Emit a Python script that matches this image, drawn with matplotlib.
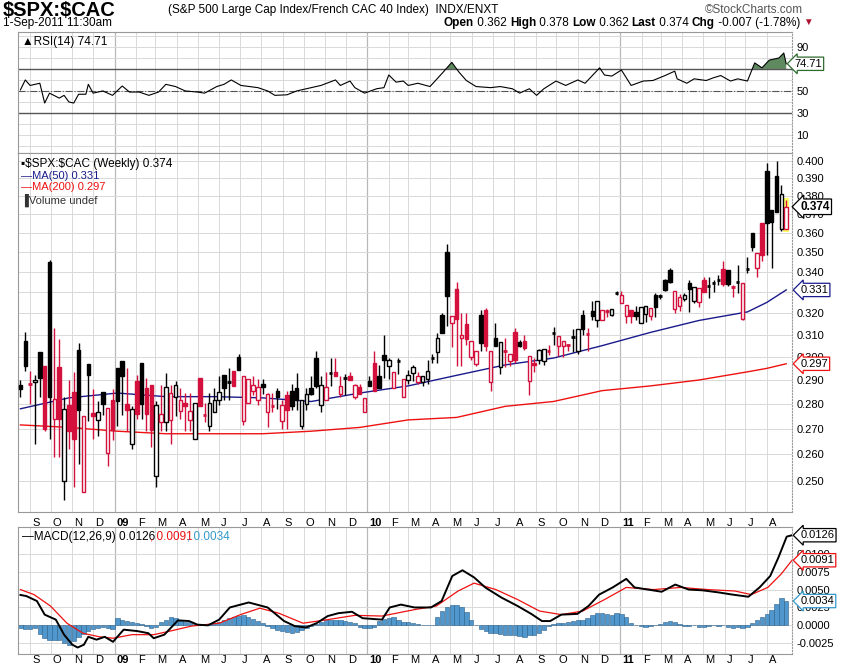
import matplotlib
matplotlib.use("Agg")
import matplotlib.pyplot as plt
from matplotlib.patches import Rectangle
from matplotlib.ticker import FixedLocator, NullLocator
import numpy as np
import pandas as pd

plt.rcParams['font.family'] = ['Liberation Sans Narrow', 'Liberation Sans', 'DejaVu Sans']

# weekly OHLC of $SPX:$CAC
opens = [0.288,0.307,0.2885,0.289,0.302,0.296,0.345,0.274,0.2955,0.250,0.2795,0.285,0.303,0.246,0.297,0.2762,0.2735,0.285,0.2605,0.2815,
 0.295,0.298,0.280,0.264,0.2895,0.2975,0.2865,0.288,0.252,0.2725,0.2725,0.2735,0.283,0.277,0.2805,0.2735,0.266,0.291,0.2758,0.271,
 0.2765,0.2815,0.292,0.2895,0.294,0.300,0.273,0.2805,0.2855,0.2815,0.2885,0.2765,0.2795,0.2855,0.273,0.2835,0.2855,0.2865,0.271,0.280,
 0.2865,0.2995,0.2795,0.2815,0.2932,0.2935,0.284,0.2908,0.2915,0.283,0.287,0.2765,0.2895,0.2975,0.2915,0.301,0.296,0.2865,0.2982,0.283,
 0.290,0.293,0.289,0.289,0.2905,0.2998,0.302,0.319,0.350,0.3155,0.3315,0.3085,0.315,0.300,0.297,0.319,0.3215,0.289,0.3085,0.2955,
 0.3025,0.298,0.311,0.3065,0.307,0.2895,0.2975,0.2985,0.298,0.3025,0.3105,0.305,0.305,0.305,0.309,0.3025,0.319,0.3105,0.321,0.3165,
 0.3165,0.3212,0.319,0.3292,0.3245,0.3185,0.3215,0.3205,0.3155,0.3195,0.3185,0.3285,0.3282,0.336,0.341,0.322,0.3235,0.3265,0.3345,0.3255,
 0.325,0.336,0.3332,0.3342,0.3362,0.3415,0.341,0.3328,0.3352,0.317,0.341,0.360,0.342,0.365,0.394,0.372,0.391,0.362,0.362]
highs = [0.290,0.311,0.294,0.292,0.302,0.296,0.346,0.313,0.308,0.283,0.290,0.2935,0.306,0.275,0.297,0.286,0.281,0.285,0.2785,0.286,
 0.295,0.298,0.295,0.279,0.292,0.2975,0.291,0.288,0.281,0.288,0.293,0.288,0.2895,0.2865,0.2845,0.2845,0.2805,0.291,0.2805,0.2845,
 0.2865,0.2915,0.292,0.295,0.294,0.3015,0.2915,0.2905,0.2915,0.2905,0.2905,0.2845,0.2845,0.2865,0.2815,0.2855,0.2885,0.293,0.2815,0.2865,
 0.2915,0.3025,0.2915,0.2935,0.2995,0.2995,0.2915,0.2925,0.2935,0.2885,0.2885,0.2825,0.2915,0.3025,0.2965,0.310,0.2995,0.2935,0.2995,0.2905,
 0.2945,0.2965,0.2935,0.2915,0.2985,0.3015,0.3105,0.320,0.354,0.3185,0.335,0.320,0.320,0.307,0.3025,0.3215,0.3225,0.3025,0.3155,0.3065,
 0.3085,0.3015,0.313,0.3075,0.310,0.3005,0.2995,0.3035,0.3035,0.3055,0.3135,0.3095,0.307,0.3055,0.3125,0.3125,0.3215,0.313,0.3255,0.3255,
 0.3215,0.322,0.3215,0.3305,0.3305,0.324,0.3215,0.3235,0.323,0.3235,0.3225,0.3295,0.329,0.3365,0.342,0.3305,0.329,0.3295,0.336,0.3325,
 0.332,0.3375,0.3375,0.336,0.3385,0.3455,0.341,0.3335,0.3435,0.3345,0.3475,0.360,0.3495,0.365,0.399,0.372,0.400,0.386,0.378]
lows = [0.283,0.294,0.280,0.264,0.283,0.269,0.266,0.259,0.259,0.243,0.262,0.248,0.2565,0.246,0.273,0.266,0.267,0.2755,0.2555,0.2655,
 0.271,0.2755,0.269,0.262,0.274,0.274,0.269,0.263,0.248,0.269,0.269,0.264,0.275,0.274,0.269,0.269,0.266,0.279,0.2725,0.269,
 0.2765,0.2795,0.2815,0.2815,0.2875,0.2945,0.2715,0.2805,0.2835,0.2795,0.284,0.2705,0.2765,0.278,0.270,0.270,0.2775,0.2775,0.270,0.2775,
 0.2835,0.2865,0.2765,0.2815,0.2875,0.2915,0.283,0.2835,0.2905,0.282,0.284,0.2765,0.2875,0.2855,0.2865,0.291,0.2905,0.2865,0.2925,0.283,
 0.2885,0.2895,0.2885,0.2875,0.2885,0.2975,0.2975,0.3105,0.314,0.3045,0.296,0.296,0.3055,0.2985,0.296,0.3025,0.3025,0.2855,0.3055,0.2925,
 0.2955,0.296,0.2975,0.3045,0.303,0.2835,0.2935,0.297,0.2965,0.301,0.3055,0.3005,0.300,0.3025,0.302,0.3015,0.310,0.3025,0.3165,0.3135,
 0.3165,0.318,0.3185,0.3285,0.3245,0.3155,0.3155,0.3165,0.3155,0.316,0.3165,0.318,0.3265,0.3305,0.3345,0.320,0.321,0.3255,0.3205,0.3245,
 0.323,0.330,0.327,0.330,0.3335,0.333,0.333,0.3275,0.3295,0.3165,0.3395,0.3505,0.3375,0.3455,0.3485,0.342,0.371,0.361,0.362]
closes = [0.286,0.296,0.288,0.290,0.291,0.270,0.283,0.282,0.274,0.278,0.269,0.266,0.2775,0.275,0.292,0.275,0.2765,0.280,0.2785,0.2695,
 0.281,0.2915,0.2775,0.278,0.276,0.280,0.276,0.2695,0.2795,0.276,0.287,0.2845,0.288,0.2815,0.2792,0.277,0.2805,0.279,0.2752,0.2805,
 0.2815,0.285,0.2865,0.289,0.2875,0.2945,0.2915,0.2905,0.288,0.287,0.2872,0.284,0.279,0.283,0.2795,0.2775,0.279,0.2815,0.2815,0.284,
 0.284,0.2875,0.288,0.287,0.2928,0.2915,0.2875,0.2905,0.290,0.288,0.284,0.2825,0.2875,0.2855,0.2865,0.2985,0.2985,0.2935,0.2978,0.2905,
 0.292,0.2955,0.2915,0.2915,0.294,0.2995,0.3085,0.3105,0.328,0.3185,0.317,0.310,0.308,0.307,0.3025,0.306,0.305,0.3025,0.305,0.3065,
 0.3025,0.3015,0.2985,0.305,0.304,0.3005,0.2965,0.303,0.3035,0.3025,0.3105,0.3095,0.307,0.3055,0.3092,0.3125,0.3125,0.3102,0.3185,0.3255,
 0.3215,0.3208,0.322,0.3295,0.3285,0.324,0.3185,0.3185,0.323,0.3235,0.3225,0.323,0.328,0.331,0.335,0.3305,0.3275,0.3285,0.3315,0.3325,
 0.332,0.330,0.333,0.3345,0.336,0.334,0.334,0.3325,0.335,0.3345,0.3415,0.3525,0.3495,0.3485,0.365,0.3655,0.371,0.381,0.374]

ma_idx = [0, 10, 20, 30, 40, 50, 60, 70, 80, 90, 100, 110, 120, 130, 140, 150, 154, 158]
ma50 = [0.278, 0.2825, 0.2845, 0.283, 0.283, 0.2825, 0.281, 0.2845, 0.2875, 0.292, 0.2965, 0.2995,
        0.305, 0.311, 0.3165, 0.3205, 0.325, 0.331]
ma200 = [0.2715, 0.2705, 0.269, 0.268, 0.268, 0.268, 0.269, 0.2705, 0.2735, 0.2745, 0.279, 0.281,
         0.2855, 0.2875, 0.290, 0.2935, 0.295, 0.297]

rsi_idx = [0,1,2,4,5,6,8,9,10,11,12,13.5,14,15,17,19,21,22.5,24.5,26.5,28.5,30,32,34,36.5,38,40.5,42,43.5,45.5,49,51,52.5,55,57,60,
           62,65,66,68,69,71,73.5,75,76,77.5,79,80,82,84.5,87,89,90.5,92,94,97,99,101.5,103,105,106.5,108,110.5,112.5,115,116.5,
           119.5,120.5,122,124,126,128.5,130.5,133,135,135.5,137.5,139,141.5,143,144.5,146.5,148,150,151.5,153,154.5,156.5,157.5,158]
rsi = [51,60,55,57,39,48,43.5,46,40,39,47,47,56,48,50,46,54.5,49,49,46,49,56,54,50,49,48,54,56,60,55,53,50,46,46.5,50,53,
       55,60,55,59,53,48,52,53,64.5,58,59,55,57,54,66,76,67,59.5,54,53,54,52,48,52,46,52,59,55,60,57,
       71,64.5,63.5,69,55,59,59.5,64,68,61,57,61,59.5,62,64,59,61,59,75.5,71,78,80,84.5,74.71]

macd_idx = [0,1.2,3.4,5,7.3,9,10.7,11.8,13.1,14,15.7,17.4,19.1,21.3,24.1,26.4,27.5,29.7,32.5,34.8,36.5,38.7,41,43.2,47.1,51,54.4,
            56.6,58.9,61.1,63.4,65.6,68.4,70.6,74.6,76.2,78.5,81.3,84.7,86.9,89.1,91.2,93.6,95.9,99.2,102.6,105.4,107.6,109.3,111.6,
            114.9,117.2,119.4,122.2,125,126.7,129.5,132.3,135.1,137.9,140.7,144.1,146.9,150.2,152.5,154.7,156.4,158.1,159.2]
macd = [0.00425,0.0041,0.0034,0.0015,0.0008,-0.0013,-0.0027,-0.0031,-0.0027,-0.0016,-0.0020,-0.0016,-0.0023,-0.0006,-0.0008,-0.0011,
        -0.0018,-0.0013,0.0007,0.0006,0.0001,0.0,0.0008,0.0025,0.0032,0.0025,0.0006,-0.0001,-0.0003,0.0003,0.0013,0.0017,0.0019,
        0.0010,0.0008,0.0025,0.0029,0.0025,0.0025,0.0034,0.0069,0.0077,0.0067,0.0053,0.0039,0.0027,0.0016,0.0006,0.0006,0.0015,
        0.0016,0.0027,0.0043,0.0053,0.0065,0.0053,0.0050,0.0047,0.0057,0.0050,0.0049,0.0046,0.0043,0.0040,0.0053,0.0069,0.0095,
        0.0124,0.0126]
sig_idx = [0,2.8,6.2,9.6,12.9,16.3,19.1,23,27.5,30.9,35.3,41,45.4,49.4,53.3,58.3,63.4,69,74.6,81.3,85.8,90.3,93.6,98.1,102.6,
           107.1,111.6,116,120.5,125,130.6,136.2,141.8,147.4,150.8,154.2,157,159.2]
signal = [0.0050,0.0043,0.0027,0.0003,-0.0011,-0.0016,-0.0018,-0.0013,-0.0013,-0.0008,-0.0001,0.0003,0.0015,0.0024,0.0017,0.0003,
          0.0008,0.0014,0.0013,0.0022,0.0027,0.0048,0.0059,0.0050,0.0036,0.0020,0.0015,0.0020,0.0036,0.0053,0.0050,0.0053,0.0050,
          0.0048,0.0043,0.0053,0.0072,0.0091]
hist = [-0.0004,-0.0005,-0.0005,-0.0004,-0.0012,-0.0018,-0.0020,-0.0020,-0.0021,-0.0024,-0.0028,-0.0022,-0.0016,-0.0012,-0.0008,-0.0005,
        -0.0003,-0.0002,-0.0004,-0.0005,0.0010,0.0008,0.0006,0.0004,0.0003,0.0002,-0.0001,-0.0003,-0.0002,0.0004,0.0008,0.0012,
        0.0010,0.0007,0.0005,0.0004,0.0002,0.0001,0.0001,0.0002,0.0003,0.0005,0.0007,0.0010,0.0012,0.0013,0.0015,0.0012,
        0.0009,0.0006,0.0003,-0.0001,-0.0004,-0.0006,-0.0008,-0.0009,-0.0010,-0.0009,-0.0007,-0.0004,-0.0001,0.0002,0.0004,0.0007,
        0.0008,0.0008,0.0007,0.0006,0.0005,0.0003,-0.0002,-0.0003,-0.0003,-0.0002,0.0006,0.0009,0.0010,0.0011,0.0008,0.0005,
        0.0004,0.0003,0.0002,0.0001,0.0000,0.0001,0.0012,0.0020,0.0025,0.0029,0.0028,0.0025,0.0018,0.0008,0.0000,-0.0005,
        -0.0008,-0.0010,-0.0011,-0.0012,-0.0013,-0.0013,-0.0014,-0.0015,-0.0016,-0.0014,-0.0013,-0.0011,-0.0006,-0.0001,0.0002,0.0003,
        0.0003,0.0004,0.0006,0.0007,0.0008,0.0010,0.0014,0.0017,0.0017,0.0016,0.0015,0.0017,0.0016,0.0011,0.0003,0.0000,
        -0.0001,-0.0002,-0.0001,0.0000,0.0002,0.0004,0.0006,0.0004,0.0002,-0.0001,-0.0001,0.0000,-0.0002,-0.0002,-0.0001,0.0000,
        -0.0001,0.0000,-0.0002,-0.0003,-0.0002,-0.0004,-0.0002,0.0003,0.0008,0.0012,0.0016,0.0021,0.0030,0.0038,0.0034]

first_week = pd.Timestamp('2008-08-18')
RED = '#d4103c'
GRID = '#d9d9d9'
n = len(closes)
xlim = (-0.5, 159.2)

fig = plt.figure(figsize=(8.5, 6.68), dpi=100)
ax_rsi = fig.add_axes([0.0212, 0.7710, 0.9106, 0.1811])
ax = fig.add_axes([0.0212, 0.2335, 0.9106, 0.5374])
ax_m = fig.add_axes([0.0212, 0.0210, 0.9106, 0.1901])

# month grid positions
months = pd.date_range('2008-09-01', '2011-08-01', freq='MS')
m_pos = [(m - first_week).days / 7 for m in months]
m_lab = [m.strftime('%y') if m.month == 1 else 'JFMAMJJASOND'[m.month - 1] for m in months]

for a in (ax_rsi, ax, ax_m):
    a.set_xlim(*xlim)
    for p, m in zip(m_pos, months):
        a.axvline(p, color='#b8b8b8' if m.month == 1 else GRID, lw=0.9 if m.month == 1 else 0.7, zorder=0)
    a.xaxis.set_major_locator(NullLocator())
    a.yaxis.tick_right()
    a.tick_params(axis='y', length=0, labelsize=8, pad=3)
    for s in a.spines.values():
        s.set_color('#999999')
        s.set_linewidth(0.8)
    a.spines['right'].set_linestyle(':')

# RSI panel
ax_rsi.set_ylim(-6.4, 103.6)
for lv in range(0, 101, 10):
    ax_rsi.axhline(lv, color=GRID, lw=0.7, zorder=0)
ax_rsi.axhline(70, color='#555555', lw=1.0)
ax_rsi.axhline(30, color='#555555', lw=1.0)
ax_rsi.axhline(50, color='#555555', lw=0.8, ls='-.')
ax_rsi.plot(rsi_idx, rsi, color='black', lw=0.8)
r = np.array(rsi)
ax_rsi.fill_between(rsi_idx, 70, r, where=r > 70, interpolate=True, color='#5f8a5f', lw=0)
ax_rsi.yaxis.set_major_locator(FixedLocator([10, 30, 50, 70, 90]))
ax_rsi.set_yticklabels(['10', '30', '50', '', '90'])
ax_rsi.text(0.005, 0.97, '\u25b2RSI(14) 74.71', transform=ax_rsi.transAxes, va='top', fontsize=8.5)
ax_rsi.text(1.003, (rsi[-1] + 6.4) / 110, '74.71', transform=ax_rsi.transAxes, va='center', fontsize=8,
            bbox=dict(boxstyle='larrow,pad=0.15', fc='white', ec='#2e6b2e', lw=0.9))

# price panel
ax.set_yscale('log')
ax.set_ylim(0.2389, 0.4047)
levels = [round(0.25 + 0.01 * k, 3) for k in range(16)]
for lv in levels:
    ax.axhline(lv, color=GRID, lw=0.7, zorder=0)
ax.yaxis.set_major_locator(FixedLocator(levels))
ax.yaxis.set_minor_locator(NullLocator())
ax.set_yticklabels(['%.3f' % v for v in levels])

ax.add_patch(Rectangle((n - 1 - 0.6, 0.3605), 1.2, 0.0185, fc='#ffff66', ec='none', zorder=1))
w = 0.72
for i in range(n):
    o, h, l, c = opens[i], highs[i], lows[i], closes[i]
    col = RED if i > 0 and c < closes[i - 1] else 'black'
    filled = c < o
    ax.vlines(i, l, h, color=col, lw=1.0, zorder=2)
    lo, hi = min(o, c), max(o, c)
    if hi - lo < 0.0006:
        ax.hlines((o + c) / 2, i - w / 2, i + w / 2, color=col, lw=2, zorder=3)
    else:
        ax.add_patch(Rectangle((i - w / 2, lo), w, hi - lo, fc=col if filled else 'white',
                               ec=col, lw=1.0, zorder=3))

ax.plot(ma_idx, ma50, color='#1a1a8c', lw=1.0, zorder=1.5)
ax.plot(ma_idx, ma200, color='#ee1111', lw=1.0, zorder=1.5)

ax.text(0.004, 0.985, '\u25aa\\$SPX:\\$CAC (Weekly) 0.374', transform=ax.transAxes, va='top', fontsize=8.5)
ax.text(0.004, 0.950, '\u2014MA(50) 0.331', transform=ax.transAxes, va='top', fontsize=8, color='#1a1a8c')
ax.text(0.004, 0.918, '\u2014MA(200) 0.297', transform=ax.transAxes, va='top', fontsize=8, color='#ee1111')
ax.text(0.004, 0.886, '\u2590Volume undef', transform=ax.transAxes, va='top', fontsize=8, color='#333333')


def ytag(a, val, txt, ec, bold=False):
    a.annotate(txt, xy=(1.0, val), xycoords=('axes fraction', 'data'), xytext=(6, 0),
               textcoords='offset points', va='center', fontsize=8.5 if bold else 8,
               fontweight='bold' if bold else 'normal',
               bbox=dict(boxstyle='larrow,pad=0.15', fc='white', ec=ec, lw=0.9))


ytag(ax, closes[-1], '0.374', 'black', bold=True)
ytag(ax, ma50[-1], '0.331', '#1a1a8c')
ytag(ax, ma200[-1], '0.297', '#ee1111')

# month labels
for p, lab, m in zip(m_pos, m_lab, months):
    for yy in (0.2335 - 0.017, 0.0125):
        fig.text(0.0212 + 0.9106 * (p + 0.4 - xlim[0]) / (xlim[1] - xlim[0]), yy, lab, fontsize=8,
                 ha='left', va='center', fontweight='bold' if m.month == 1 else 'normal')

# MACD panel
ax_m.set_ylim(-0.0040, 0.01375)
mlev = [-0.0025, 0.0, 0.0025, 0.005, 0.0075, 0.01]
for lv in mlev:
    ax_m.axhline(lv, color=GRID, lw=0.7, zorder=0)
ax_m.yaxis.set_major_locator(FixedLocator(mlev))
ax_m.set_yticklabels(['%.4f' % v for v in mlev])
ax_m.bar(range(n), hist, width=0.9, color='#4f97cc', edgecolor='#2a5f88', lw=0.4, zorder=1)
ax_m.plot(sig_idx, signal, color='#ee1111', lw=0.9, zorder=2)
ax_m.plot(macd_idx, macd, color='black', lw=1.4, zorder=3)
ax_m.text(0.005, 0.97, '\u2014MACD(12,26,9) 0.0126', transform=ax_m.transAxes, va='top', fontsize=8.5)
ax_m.text(0.170, 0.97, ', 0.0091', transform=ax_m.transAxes, va='top', fontsize=8.5, color='#ee1111')
ax_m.text(0.218, 0.97, ', 0.0034', transform=ax_m.transAxes, va='top', fontsize=8.5, color='#3399cc')
ytag(ax_m, 0.0126, '0.0126', 'black')
ytag(ax_m, 0.0091, '0.0091', '#ee1111')
ytag(ax_m, 0.0034, '0.0034', '#3399cc')

# header
fig.text(0.003, 0.999, '\\$SPX:\\$CAC', fontsize=14.5, fontweight='bold', va='top')
fig.text(0.198, 0.994, '(S&P 500 Large Cap Index/French CAC 40 Index)  INDX/ENXT', fontsize=8.5, va='top')
fig.text(0.003, 0.975, '1-Sep-2011 11:30am', fontsize=8.5, va='top')
fig.text(0.945, 0.994, '\u00a9StockCharts.com', fontsize=8.5, va='top', ha='right', color='#555555')
parts = [('Open', True), (' 0.362 ', False), ('High', True), (' 0.378 ', False), ('Low', True), (' 0.362 ', False),
         ('Last', True), (' 0.374 ', False), ('Chg', True), (' -0.007 (-1.78%) ', False)]
fig.canvas.draw()
x = 0.522
rend = fig.canvas.get_renderer()
for txt, b in parts:
    t = fig.text(x, 0.975, txt, fontsize=8.5, va='top', fontweight='bold' if b else 'normal')
    x += t.get_window_extent(rend).width / fig.bbox.width
fig.text(x, 0.975, '\u25bc', fontsize=7, va='top', color='#b01030')

fig.savefig('out.png', dpi=100, facecolor='white')
